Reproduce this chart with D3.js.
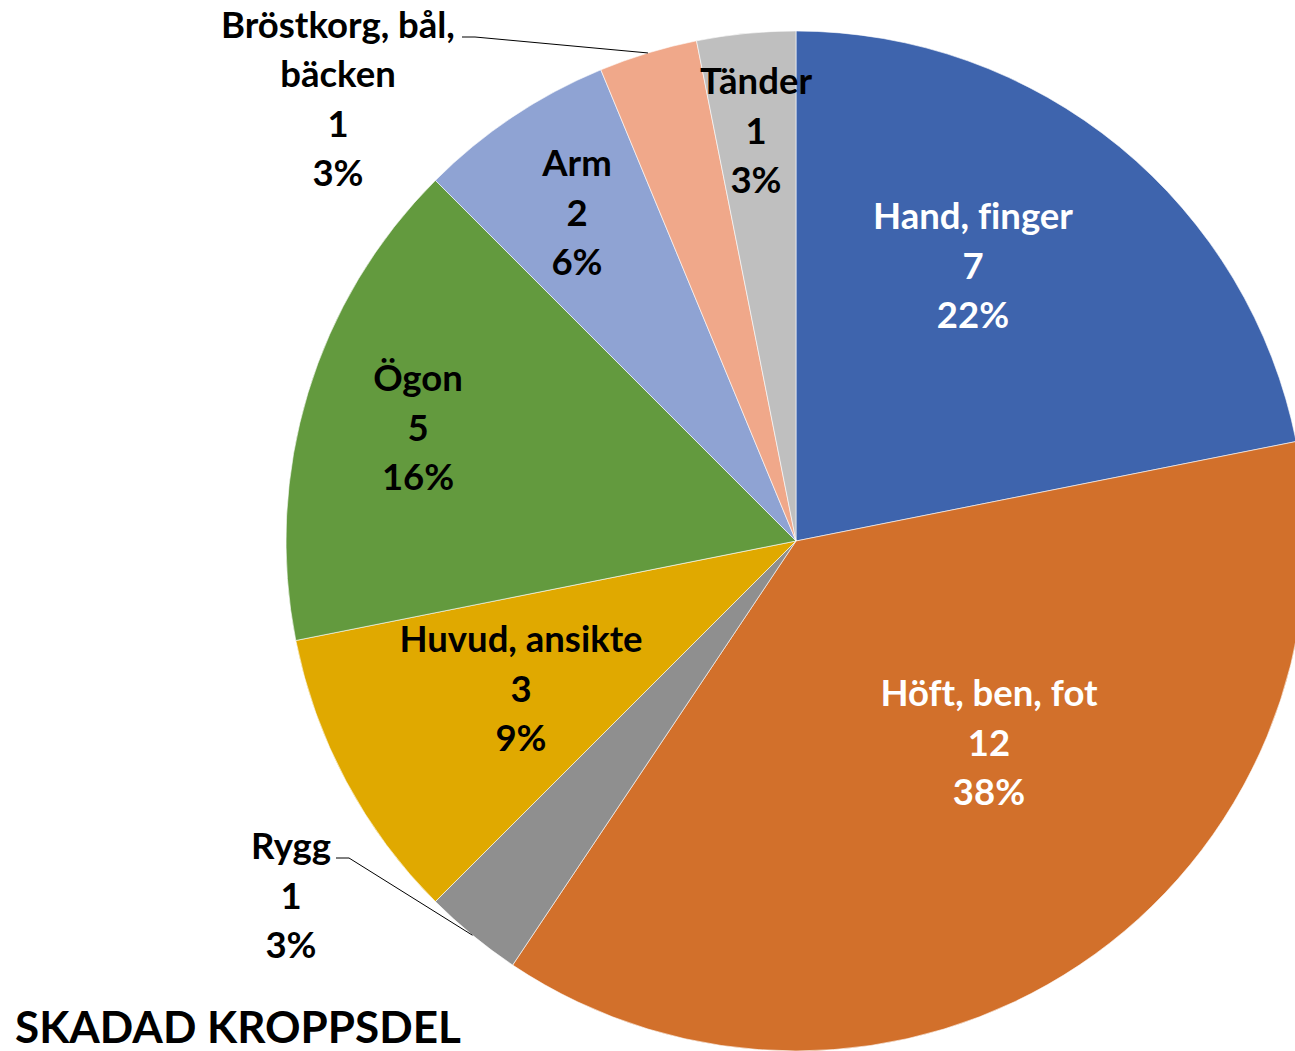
<!DOCTYPE html>
<html>
<head>
<meta charset="utf-8">
<script src="https://cdn.jsdelivr.net/npm/d3@7"></script>
<style>
  body { margin: 0; background: #fff; }
  text { font-family: Lato, "Open Sans", sans-serif; font-weight: bold; font-variant-ligatures: none; }
</style>
</head>
<body>
<script>
// data
const categories = ["Hand, finger", "Höft, ben, fot", "Rygg", "Huvud, ansikte", "Ögon", "Arm", "Bröstkorg, bål, bäcken", "Tänder"];
const counts = [7, 12, 1, 3, 5, 2, 1, 1];
const percents = ["22%", "38%", "3%", "9%", "16%", "6%", "3%", "3%"];
const nameLines = [["Hand, finger"], ["Höft, ben, fot"], ["Rygg"], ["Huvud, ansikte"], ["Ögon"], ["Arm"], ["Bröstkorg, bål,", "bäcken"], ["Tänder"]];

// styling / layout
const colors = ["#3E64AD", "#D2702B", "#8F8F8F", "#E0A900", "#639A3E", "#8FA3D3", "#F0A88A", "#BFBFBF"];
const textColors = ["#fff", "#fff", "#000", "#000", "#000", "#000", "#000", "#000"];
// label block centre, relative to pie centre
const labelAt = [[177, -275], [193, 202], [-505, 355], [-275, 148], [-378, -113], [-219, -328], [-458, -442], [-40, -410]];
// leader lines: elbow point relative to pie centre (null = no line)
const leaderAt = [null, null, [-447, 317], null, null, null, [-321, -504], null];

const width = 1295;
const height = 1051;
const cx = 796, cy = 541, radius = 510;
const lineGap = 49.5;

const svg = d3.select('body')
  .append('svg')
  .attr('width', width)
  .attr('height', height);

const g = svg.append('g').attr('transform', `translate(${cx},${cy})`);

const pie = d3.pie().sort(null).value((d) => d);
const arcs = pie(counts);
const arc = d3.arc().innerRadius(0).outerRadius(radius);
const outerArc = d3.arc().innerRadius(radius).outerRadius(radius);

g.selectAll('path.slice')
  .data(arcs)
  .enter().append('path')
  .attr('class', 'slice')
  .attr('d', arc)
  .attr('fill', (d, i) => colors[i])
  .attr('stroke', '#fff')
  .attr('stroke-width', 0.6);

// leader lines
arcs.forEach((d, i) => {
  if (!leaderAt[i]) return;
  const end = outerArc.centroid(d);
  const e = leaderAt[i];
  const dir = e[0] < end[0] ? -1 : 1;
  g.append('polyline')
    .attr('points', [[e[0] + dir * 13, e[1]], e, end].map((p) => p.join(',')).join(' '))
    .attr('fill', 'none')
    .attr('stroke', '#000')
    .attr('stroke-width', 1);
});

// labels
arcs.forEach((d, i) => {
  const lines = nameLines[i].concat([String(counts[i]), percents[i]]);
  const [lx, ly] = labelAt[i];
  const top = ly - (lines.length - 1) * lineGap / 2;
  const t = g.append('text')
    .attr('text-anchor', 'middle')
    .attr('font-size', 36.5)
    .attr('fill', textColors[i]);
  lines.forEach((s, k) => {
    t.append('tspan')
      .attr('x', lx)
      .attr('y', top + k * lineGap)
      .attr('dy', '0.35em')
      .text(s);
  });
});

// title
svg.append('text')
  .attr('x', 15)
  .attr('y', 1043)
  .attr('font-size', 44)
  .attr('fill', '#000')
  .text('SKADAD KROPPSDEL');
</script>
</body>
</html>
